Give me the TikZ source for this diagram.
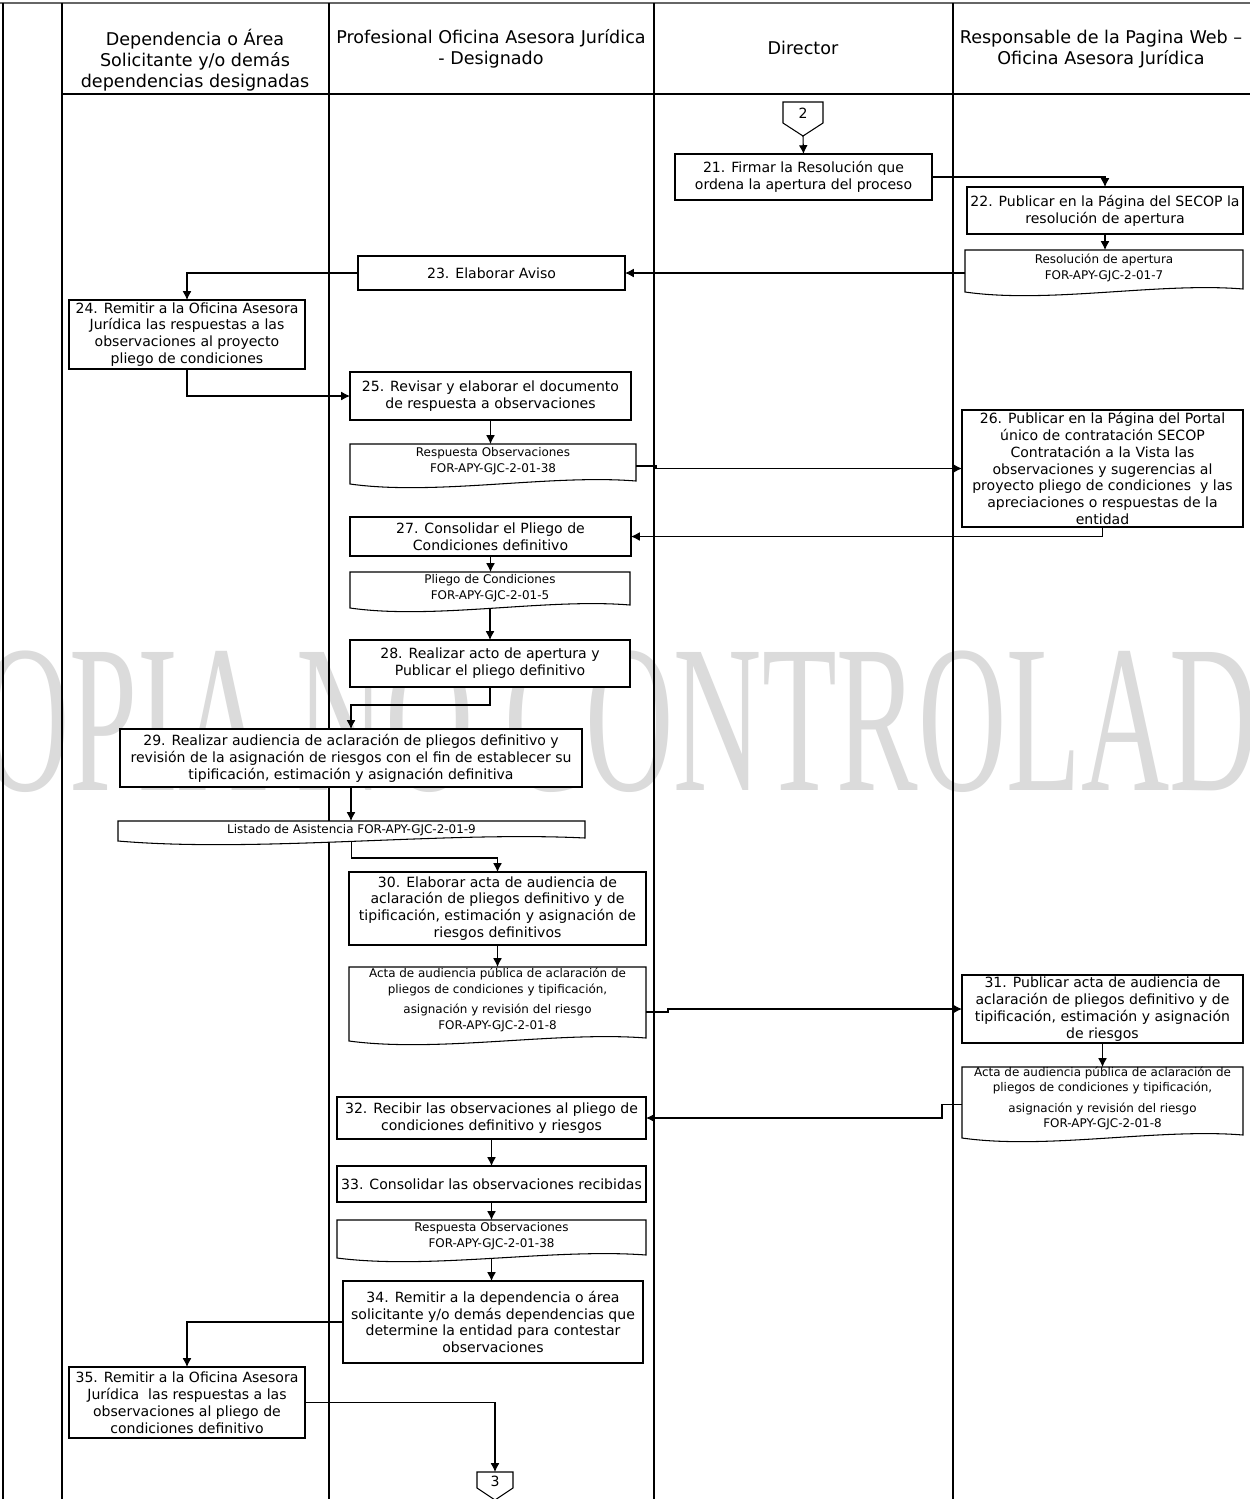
\documentclass[tikz,border=0pt]{standalone}
\usepackage{fontspec}
\setmainfont{DejaVu Sans}
\newfontfamily\markfont{Liberation Serif}
\usetikzlibrary{arrows.meta,calc}

% process box given by its left, top, right and bottom edges (pixel grid)
\newcommand\flowproc[6]{%
  \node[proc, minimum width={(#4-#2)*0.02cm}, minimum height={(#5-#3)*0.02cm}]
    (#1) at ({(#2+#4)/2},{(#3+#5)/2}) {#6};}

% document shape with a wavy lower edge; #7 shifts the text vertically
\newcommand\flowdoc[7]{%
  \node[docframe, minimum width={(#4-#2)*0.02cm}, minimum height={(#5-#3)*0.02cm}]
    (#1) at ({(#2+#4)/2},{(#3+#5)/2}) {};
  \draw[boxline, fill=white] (#1.north west) -- (#1.north east)
    -- ($(#1.south east)+(0,-7)$)
    .. controls ($(#1.south east)!0.3!(#1.south west)+(0,-14)$)
           and ($(#1.south east)!0.7!(#1.south west)+(0,8)$) ..
       ($(#1.south west)+(0,-4)$) -- cycle;
  \node[doctxt] (#1-t) at ($(#1.center)+(0,#7)$) {#6};
  \coordinate (#1-b) at ($(#1.south)+(0,-4)$);}

\begin{document}
\begin{tikzpicture}[x=0.02cm, y=-0.02cm,
  lane/.style={line width=0.7pt, draw=black},
  boxline/.style={line width=0.6pt, draw=black},
  proc/.style={boxline, fill=white, rectangle, inner sep=1pt, outer sep=0pt,
    align=center, font=\fontsize{8}{9.6}\selectfont},
  docframe/.style={rectangle, draw=none, inner sep=0pt, outer sep=0pt},
  doctxt/.style={align=center, inner sep=0pt, font=\fontsize{6.8}{8.8}\selectfont},
  hdr/.style={align=center, inner sep=0pt, font=\fontsize{10}{12}\selectfont},
  flow/.style={line width=0.6pt, -{Latex[length=5pt,width=5pt]}},
  conn/.style={boxline, fill=white},
]
\useasboundingbox (0,0) rectangle (1250,1499);
\clip (0,0) rectangle (1250,1499);
\fill[white] (0,0) rectangle (1250,1499);

% watermark
\node[text=black!14, font=\markfont\fontsize{120}{120}\selectfont, xscale=0.58,
  anchor=base, inner sep=0pt] (mark) at (623,790) {COPIA NO CONTROLADA};

% swimlane frame
\draw[line width=1.2pt, black!60] (0,3) -- (1250,3);
\draw[lane] (3,3) -- (3,1499);
\draw[lane] (62,3) -- (62,1499);
\draw[lane] (329,3) -- (329,1499);
\draw[lane] (654,3) -- (654,1499);
\draw[lane] (953,3) -- (953,1499);
\draw[lane] (62,94) -- (1250,94);

% lane titles
\node[hdr] (h1) at (195,60) {Dependencia o Área\\Solicitante y/o demás\\dependencias designadas};
\node[hdr] (h2) at (491,49) {Profesional Oficina Asesora Jurídica\\- Designado};
\node[hdr] (h3) at (803,48) {Director};
\node[hdr] (h4) at (1101,49) {Responsable de la Pagina Web –\\Oficina Asesora Jurídica};

% incoming page connector
\draw[conn] (783,102) -- (823,102) -- (823,123) -- (803,136) -- (783,123) -- cycle;
\node[inner sep=0pt, font=\fontsize{8}{9.6}\selectfont] (c2) at (803,113) {2};
\coordinate (c2tip) at (803,136);

% activities and documents
\flowproc{b21}{675}{154}{932}{200}{21. Firmar la Resolución que\\ordena la apertura del proceso}
\flowproc{b22}{967}{187}{1243}{234}{22. Publicar en la Página del SECOP la\\resolución de apertura}
\flowdoc{d22}{965}{250}{1243}{296}{Resolución de apertura\\FOR-APY-GJC-2-01-7}{-5}
\flowproc{b23}{358}{256}{625}{290}{23. Elaborar Aviso}
\flowproc{b24}{69}{300}{305}{369}{24. Remitir a la Oficina Asesora\\Jurídica las respuestas a las\\observaciones al proyecto\\pliego de condiciones}
\flowproc{b25}{350}{372}{631}{420}{25. Revisar y elaborar el documento\\de respuesta a observaciones}
\flowdoc{d25}{350}{444}{636}{488}{Respuesta Observaciones\\FOR-APY-GJC-2-01-38}{-5}
\flowproc{b26}{962}{410}{1243}{527}{26. Publicar en la Página del Portal\\único de contratación SECOP\\Contratación a la Vista las\\observaciones y sugerencias al\\proyecto pliego de condiciones\ \ y las\\apreciaciones o respuestas de la\\entidad}
\flowproc{b27}{350}{517}{631}{556}{27. Consolidar el Pliego de\\Condiciones definitivo}
\flowdoc{d27}{350}{572}{630}{612}{Pliego de Condiciones\\FOR-APY-GJC-2-01-5}{-4}
\flowproc{b28}{350}{640}{630}{687}{28. Realizar acto de apertura y\\Publicar el pliego definitivo}
\flowproc{b29}{120}{729}{582}{787}{29. Realizar audiencia de aclaración de pliegos definitivo y\\revisión de la asignación de riesgos con el fin de establecer su\\tipificación, estimación y asignación definitiva}
\flowdoc{d29}{118}{821}{585}{845}{Listado de Asistencia FOR-APY-GJC-2-01-9}{-3}
\flowproc{b30}{349}{872}{646}{945}{30. Elaborar acta de audiencia de\\aclaración de pliegos definitivo y de\\tipificación, estimación y asignación de\\riesgos definitivos}
\flowdoc{d30}{349}{967}{646}{1045}{Acta de audiencia pública de aclaración de\\pliegos de condiciones y tipificación,\\[3pt]asignación y revisión del riesgo\\FOR-APY-GJC-2-01-8}{-6}
\flowproc{b31}{962}{975}{1243}{1043}{31. Publicar acta de audiencia de\\aclaración de pliegos definitivo y de\\tipificación, estimación y asignación\\de riesgos}
\flowdoc{d31}{962}{1067}{1243}{1142}{Acta de audiencia pública de aclaración de\\pliegos de condiciones y tipificación,\\[3pt]asignación y revisión del riesgo\\FOR-APY-GJC-2-01-8}{-6}
\flowproc{b32}{337}{1097}{646}{1139}{32. Recibir las observaciones al pliego de\\condiciones definitivo y riesgos}
\flowproc{b33}{337}{1166}{646}{1202}{33. Consolidar las observaciones recibidas}
\flowdoc{d33}{337}{1220}{646}{1262}{Respuesta Observaciones\\FOR-APY-GJC-2-01-38}{-5}
\flowproc{b34}{343}{1281}{643}{1363}{34. Remitir a la dependencia o área\\solicitante y/o demás dependencias que\\determine la entidad para contestar\\observaciones}
\flowproc{b35}{69}{1367}{305}{1438}{35. Remitir a la Oficina Asesora\\Jurídica\ \ las respuestas a las\\observaciones al pliego de\\condiciones definitivo}

% outgoing page connector
\draw[conn] (477,1472) -- (513,1472) -- (513,1488) -- (495,1500) -- (477,1488) -- cycle;
\node[inner sep=0pt, font=\fontsize{8}{9.6}\selectfont] (c3) at (495,1481) {3};
\coordinate (c3top) at (495,1472);

% flow
\draw[flow] (c2tip) -- (b21.north);
\draw[flow] (b21.east) -| (b22.north);
\draw[flow] (b22.south) -- (b22.south |- d22.north);
\draw[flow] (d22.west) -- (b23.east);
\draw[flow] (b23.west) -| (b24.north);
\draw[flow] (b24.south) |- (b25.west);
\draw[flow] (b25.south) -- (b25.south |- d25.north);
\draw[flow] (d25.east) -- ++(20,0) |- (b26.west);
\draw[flow] (b26.south) |- (b27.east);
\draw[flow] (b27.south) -- (b27.south |- d27.north);
\draw[flow] (d27-b) -- (d27-b |- b28.north);
\draw[flow] (b28.south) -- ++(0,18) -| (b29.north);
\draw[flow] (b29.south) -- (b29.south |- d29.north);
\draw[flow] (d29-b) -- ++(0,17) -| (b30.north);
\draw[flow] (b30.south) -- (b30.south |- d30.north);
\draw[flow] ($(d30.east)+(0,6)$) -- ++(22,0) |- (b31.west);
\draw[flow] (b31.south) -- (b31.south |- d31.north);
\draw[flow] (d31.west) -- ++(-20,0) |- (b32.east);
\draw[flow] (b32.south) -- (b32.south |- b33.north);
\draw[flow] (b33.south) -- (b33.south |- d33.north);
\draw[flow] (d33-b) -- (d33-b |- b34.north);
\draw[flow] (b34.west) -| (b35.north);
\draw[flow] (b35.east) -| (c3top);
\end{tikzpicture}
\end{document}
